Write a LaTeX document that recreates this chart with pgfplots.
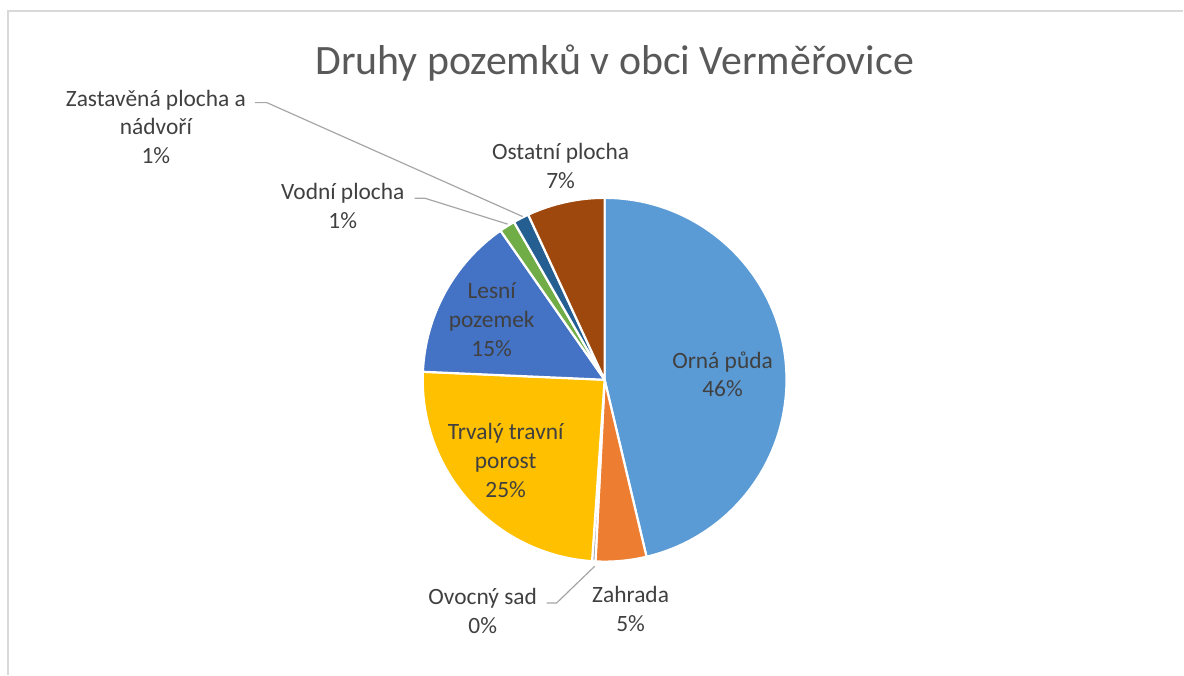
\documentclass[border=0pt]{standalone}
\usepackage{pgfplots}
\pgfplotsset{compat=1.18}
\usepackage{fontspec}
\setmainfont{Carlito}

\definecolor{orna}{HTML}{5B9BD5}
\definecolor{zahrada}{HTML}{ED7D31}
\definecolor{ovocny}{HTML}{A5A5A5}
\definecolor{trvaly}{HTML}{FFC000}
\definecolor{lesni}{HTML}{4472C4}
\definecolor{vodni}{HTML}{70AD47}
\definecolor{zastavena}{HTML}{255E91}
\definecolor{ostatni}{HTML}{9E480E}
\definecolor{labeltext}{HTML}{404040}
\definecolor{titletext}{HTML}{595959}
\definecolor{leader}{HTML}{A6A6A6}
\definecolor{frame}{HTML}{D9D9D9}

\tikzset{lbl/.style={font=\fontsize{23.5}{29}\selectfont, text=labeltext, align=center}}

% pie centre and radius in axis units (1 unit = 1bp)
\def\cx{605}\def\cy{295}\def\rr{182}
\xdef\cum{0}
% one slice, clockwise from 12 o'clock; #1 = share in percent
\newcommand\slice[2]{%
  \pgfmathsetmacro\sa{90-3.6*\cum}%
  \pgfmathsetmacro\sb{90-3.6*(\cum+#1)}%
  \pgfmathsetmacro\px{\cx+\rr*cos(\sa)}%
  \pgfmathsetmacro\py{\cy+\rr*sin(\sa)}%
  \edef\tmp{\noexpand\fill[#2, draw=white, line width=2.2pt, line join=round]
    (axis cs:\cx,\cy) -- (axis cs:\px,\py)
    arc[start angle=\sa, end angle=\sb, radius=\rr] -- cycle;}%
  \tmp
  \pgfmathsetmacro\newcum{\cum+#1}%
  \xdef\cum{\newcum}%
}

\begin{document}
\begin{tikzpicture}
\begin{axis}[x=1bp, y=1bp, xmin=0, xmax=1184, ymin=0, ymax=675,
  hide axis, clip=false]
  \path (axis cs:0,0) rectangle (axis cs:1184,675);
  % chart frame
  \draw[frame, line width=1.5pt] (axis cs:8,0) -- (axis cs:8,664) -- (axis cs:1184,664);

  \slice{46.3}{orna}
  \slice{4.5}{zahrada}
  \slice{0.3}{ovocny}
  \slice{24.6}{trvaly}
  \slice{14.6}{lesni}
  \slice{1.4}{vodni}
  \slice{1.4}{zastavena}
  \slice{6.9}{ostatni}

  % leader lines
  \draw[leader, line width=1.2pt] (axis cs:255,572.3) -- (axis cs:267,572.3) -- (axis cs:523,458.3);
  \draw[leader, line width=1.2pt] (axis cs:415,476.7) -- (axis cs:425,476.7) -- (axis cs:508,450.7);
  \draw[leader, line width=1.2pt] (axis cs:547,71.7) -- (axis cs:557,71.7) -- (axis cs:595,108.3);

  \node[anchor=base, text=titletext, font=\fontsize{42}{50}\selectfont] at (axis cs:615,600) {Druhy pozemků v obci Verměřovice};

  \node[lbl] at (axis cs:156,548) {Zastavěná plocha a\\nádvoří\\1\%};
  \node[lbl] at (axis cs:343,468.5) {Vodní plocha\\1\%};
  \node[lbl] at (axis cs:561,509) {Ostatní plocha\\7\%};
  \node[lbl] at (axis cs:492,355) {Lesní\\pozemek\\15\%};
  \node[lbl] at (axis cs:723,300.5) {Orná půda\\46\%};
  \node[lbl] at (axis cs:506,214) {Trvalý travní\\porost\\25\%};
  \node[lbl] at (axis cs:483,63.5) {Ovocný sad\\0\%};
  \node[lbl] at (axis cs:631,65.5) {Zahrada\\5\%};
\end{axis}
\end{tikzpicture}
\end{document}
